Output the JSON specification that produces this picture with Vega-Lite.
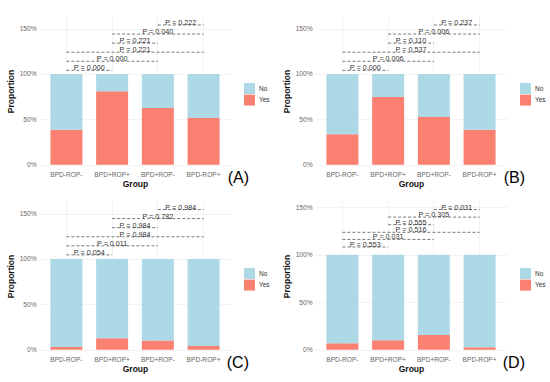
{
  "$schema": "https://vega.github.io/schema/vega-lite/v6.json",
  "padding": {"left": 6, "top": 15, "right": 0, "bottom": 0},
  "background": "white",
  "config": {
    "font": "Liberation Sans",
    "view": {"stroke": null},
    "axis": {"domain": false, "ticks": false, "labelFontSize": 6.6, "labelColor": "#666666", "titleFontSize": 8.5, "titleFontWeight": "bold", "titleColor": "#111111", "grid": true, "gridColor": "#ebebeb", "gridWidth": 0.6},
    "axisX": {"labelAngle": 0, "labelPadding": 4, "titlePadding": 2, "bandPosition": 0.5},
    "axisY": {"values": [0, 0.25, 0.5, 0.75, 1, 1.25, 1.5], "labelExpr": "datum.value % 0.5 == 0 ? format(datum.value, '.0%') : ''", "labelPadding": 3, "titlePadding": 4},
    "title": {"orient": "bottom", "anchor": "end", "frame": "group", "fontSize": 16, "fontWeight": "normal", "color": "#000000", "offset": 0, "dx": 18, "dy": -22},
    "legend": {"symbolType": "square", "symbolSize": 121, "symbolStrokeWidth": 0, "labelFontSize": 6.5, "labelColor": "#333333", "rowPadding": 0.6, "labelOffset": 4, "padding": 0}
  },
  "datasets": {
    "bars": [
      {"panel": "A", "group": "BPD-ROP-", "answer": "Yes", "proportion": 0.385},
      {"panel": "A", "group": "BPD-ROP-", "answer": "No", "proportion": 0.615},
      {"panel": "A", "group": "BPD+ROP+", "answer": "Yes", "proportion": 0.81},
      {"panel": "A", "group": "BPD+ROP+", "answer": "No", "proportion": 0.19},
      {"panel": "A", "group": "BPD+ROP-", "answer": "Yes", "proportion": 0.626},
      {"panel": "A", "group": "BPD+ROP-", "answer": "No", "proportion": 0.374},
      {"panel": "A", "group": "BPD-ROP+", "answer": "Yes", "proportion": 0.516},
      {"panel": "A", "group": "BPD-ROP+", "answer": "No", "proportion": 0.484},
      {"panel": "B", "group": "BPD-ROP-", "answer": "Yes", "proportion": 0.337},
      {"panel": "B", "group": "BPD-ROP-", "answer": "No", "proportion": 0.663},
      {"panel": "B", "group": "BPD+ROP+", "answer": "Yes", "proportion": 0.747},
      {"panel": "B", "group": "BPD+ROP+", "answer": "No", "proportion": 0.253},
      {"panel": "B", "group": "BPD+ROP-", "answer": "Yes", "proportion": 0.527},
      {"panel": "B", "group": "BPD+ROP-", "answer": "No", "proportion": 0.473},
      {"panel": "B", "group": "BPD-ROP+", "answer": "Yes", "proportion": 0.385},
      {"panel": "B", "group": "BPD-ROP+", "answer": "No", "proportion": 0.615},
      {"panel": "C", "group": "BPD-ROP-", "answer": "Yes", "proportion": 0.029},
      {"panel": "C", "group": "BPD-ROP-", "answer": "No", "proportion": 0.971},
      {"panel": "C", "group": "BPD+ROP+", "answer": "Yes", "proportion": 0.127},
      {"panel": "C", "group": "BPD+ROP+", "answer": "No", "proportion": 0.873},
      {"panel": "C", "group": "BPD+ROP-", "answer": "Yes", "proportion": 0.102},
      {"panel": "C", "group": "BPD+ROP-", "answer": "No", "proportion": 0.898},
      {"panel": "C", "group": "BPD-ROP+", "answer": "Yes", "proportion": 0.04},
      {"panel": "C", "group": "BPD-ROP+", "answer": "No", "proportion": 0.96},
      {"panel": "D", "group": "BPD-ROP-", "answer": "Yes", "proportion": 0.067},
      {"panel": "D", "group": "BPD-ROP-", "answer": "No", "proportion": 0.933},
      {"panel": "D", "group": "BPD+ROP+", "answer": "Yes", "proportion": 0.098},
      {"panel": "D", "group": "BPD+ROP+", "answer": "No", "proportion": 0.902},
      {"panel": "D", "group": "BPD+ROP-", "answer": "Yes", "proportion": 0.154},
      {"panel": "D", "group": "BPD+ROP-", "answer": "No", "proportion": 0.846},
      {"panel": "D", "group": "BPD-ROP+", "answer": "Yes", "proportion": 0.025},
      {"panel": "D", "group": "BPD-ROP+", "answer": "No", "proportion": 0.975}
    ],
    "brackets": [
      {"panel": "A", "from": "BPD-ROP-", "to": "BPD+ROP+", "h": 1.04, "label": "P = 0.000"},
      {"panel": "A", "from": "BPD-ROP-", "to": "BPD+ROP-", "h": 1.14, "label": "P = 0.000"},
      {"panel": "A", "from": "BPD-ROP-", "to": "BPD-ROP+", "h": 1.24, "label": "P = 0.221"},
      {"panel": "A", "from": "BPD+ROP+", "to": "BPD+ROP-", "h": 1.34, "label": "P = 0.221"},
      {"panel": "A", "from": "BPD+ROP+", "to": "BPD-ROP+", "h": 1.44, "label": "P = 0.040"},
      {"panel": "A", "from": "BPD+ROP-", "to": "BPD-ROP+", "h": 1.54, "label": "P = 0.222"},
      {"panel": "B", "from": "BPD-ROP-", "to": "BPD+ROP+", "h": 1.04, "label": "P = 0.000"},
      {"panel": "B", "from": "BPD-ROP-", "to": "BPD+ROP-", "h": 1.14, "label": "P = 0.006"},
      {"panel": "B", "from": "BPD-ROP-", "to": "BPD-ROP+", "h": 1.24, "label": "P = 0.537"},
      {"panel": "B", "from": "BPD+ROP+", "to": "BPD+ROP-", "h": 1.34, "label": "P = 0.110"},
      {"panel": "B", "from": "BPD+ROP+", "to": "BPD-ROP+", "h": 1.44, "label": "P = 0.006"},
      {"panel": "B", "from": "BPD+ROP-", "to": "BPD-ROP+", "h": 1.54, "label": "P = 0.237"},
      {"panel": "C", "from": "BPD-ROP-", "to": "BPD+ROP+", "h": 1.045, "label": "P = 0.054"},
      {"panel": "C", "from": "BPD-ROP-", "to": "BPD+ROP-", "h": 1.145, "label": "P = 0.011"},
      {"panel": "C", "from": "BPD-ROP-", "to": "BPD-ROP+", "h": 1.245, "label": "P = 0.984"},
      {"panel": "C", "from": "BPD+ROP+", "to": "BPD+ROP-", "h": 1.345, "label": "P = 0.984"},
      {"panel": "C", "from": "BPD+ROP+", "to": "BPD-ROP+", "h": 1.445, "label": "P = 0.782"},
      {"panel": "C", "from": "BPD+ROP-", "to": "BPD-ROP+", "h": 1.545, "label": "P = 0.984"},
      {"panel": "D", "from": "BPD-ROP-", "to": "BPD+ROP+", "h": 1.08, "label": "P = 0.553"},
      {"panel": "D", "from": "BPD-ROP-", "to": "BPD+ROP-", "h": 1.16, "label": "P = 0.031"},
      {"panel": "D", "from": "BPD-ROP-", "to": "BPD-ROP+", "h": 1.235, "label": "P = 0.516"},
      {"panel": "D", "from": "BPD+ROP+", "to": "BPD+ROP-", "h": 1.315, "label": "P = 0.555"},
      {"panel": "D", "from": "BPD+ROP+", "to": "BPD-ROP+", "h": 1.395, "label": "P = 0.305"},
      {"panel": "D", "from": "BPD+ROP-", "to": "BPD-ROP+", "h": 1.475, "label": "P = 0.031"}
    ]
  },
  "resolve": {"scale": {"color": "independent", "x": "independent", "y": "independent"}, "legend": {"color": "independent"}},
  "spacing": 11,
  "vconcat": [
    {
      "spacing": 12,
      "resolve": {"scale": {"color": "independent", "x": "independent", "y": "independent"}, "legend": {"color": "independent"}},
      "hconcat": [
        {
          "width": 192, "height": 152,
          "title": {"text": "(A)"},
          "layer": [
            {"data": {"name": "bars"}, "transform": [{"filter": "datum.panel == 'A'"}], "mark": {"type": "bar"},
             "encoding": {
               "x": {"field": "group", "type": "nominal", "title": "Group", "scale": {"domain": ["BPD-ROP-", "BPD+ROP+", "BPD+ROP-", "BPD-ROP+"], "paddingInner": 0.3, "paddingOuter": 0.25}},
               "y": {"field": "proportion", "type": "quantitative", "stack": "zero", "title": "Proportion", "scale": {"domain": [-0.025, 1.65], "nice": false, "zero": false}},
               "color": {"field": "answer", "type": "nominal", "scale": {"domain": ["No", "Yes"], "range": ["#ADD8E6", "#FA8072"]}, "legend": {"title": null, "orient": "none", "legendX": 205, "legendY": 68}},
               "order": {"field": "answer", "sort": "descending"}}},
            {"data": {"name": "brackets"}, "transform": [{"filter": "datum.panel == 'A'"}], "mark": {"type": "rule", "strokeDash": [3, 2], "color": "#555555", "strokeWidth": 0.8},
             "encoding": {"x": {"field": "from", "type": "nominal", "bandPosition": 0.5, "title": "Group"}, "x2": {"field": "to", "bandPosition": 0.5}, "y": {"field": "h", "type": "quantitative", "title": "Proportion"}}},
            {"data": {"name": "brackets"}, "transform": [{"filter": "datum.panel == 'A' && indexof(['BPD-ROP-','BPD+ROP+','BPD+ROP-','BPD-ROP+'], datum.to) - indexof(['BPD-ROP-','BPD+ROP+','BPD+ROP-','BPD-ROP+'], datum.from) == 1"}], "mark": {"type": "text", "fontSize": 7.2, "color": "#333333", "baseline": "alphabetic", "align": "center"},
             "encoding": {"x": {"field": "from", "type": "nominal", "bandPosition": 1.2143, "title": "Group"}, "y": {"field": "h", "type": "quantitative", "title": "Proportion"}, "text": {"field": "label"}}},
            {"data": {"name": "brackets"}, "transform": [{"filter": "datum.panel == 'A' && indexof(['BPD-ROP-','BPD+ROP+','BPD+ROP-','BPD-ROP+'], datum.to) - indexof(['BPD-ROP-','BPD+ROP+','BPD+ROP-','BPD-ROP+'], datum.from) == 2"}], "mark": {"type": "text", "fontSize": 7.2, "color": "#333333", "baseline": "alphabetic", "align": "center"},
             "encoding": {"x": {"field": "from", "type": "nominal", "bandPosition": 1.9286, "title": "Group"}, "y": {"field": "h", "type": "quantitative", "title": "Proportion"}, "text": {"field": "label"}}},
            {"data": {"name": "brackets"}, "transform": [{"filter": "datum.panel == 'A' && indexof(['BPD-ROP-','BPD+ROP+','BPD+ROP-','BPD-ROP+'], datum.to) - indexof(['BPD-ROP-','BPD+ROP+','BPD+ROP-','BPD-ROP+'], datum.from) == 3"}], "mark": {"type": "text", "fontSize": 7.2, "color": "#333333", "baseline": "alphabetic", "align": "center"},
             "encoding": {"x": {"field": "from", "type": "nominal", "bandPosition": 2.6429, "title": "Group"}, "y": {"field": "h", "type": "quantitative", "title": "Proportion"}, "text": {"field": "label"}}}
          ]
        },
        {
          "width": 192, "height": 152,
          "title": {"text": "(B)"},
          "layer": [
            {"data": {"name": "bars"}, "transform": [{"filter": "datum.panel == 'B'"}], "mark": {"type": "bar"},
             "encoding": {
               "x": {"field": "group", "type": "nominal", "title": "Group", "scale": {"domain": ["BPD-ROP-", "BPD+ROP+", "BPD+ROP-", "BPD-ROP+"], "paddingInner": 0.3, "paddingOuter": 0.25}},
               "y": {"field": "proportion", "type": "quantitative", "stack": "zero", "title": "Proportion", "scale": {"domain": [-0.025, 1.65], "nice": false, "zero": false}},
               "color": {"field": "answer", "type": "nominal", "scale": {"domain": ["No", "Yes"], "range": ["#ADD8E6", "#FA8072"]}, "legend": {"title": null, "orient": "none", "legendX": 205, "legendY": 68}},
               "order": {"field": "answer", "sort": "descending"}}},
            {"data": {"name": "brackets"}, "transform": [{"filter": "datum.panel == 'B'"}], "mark": {"type": "rule", "strokeDash": [3, 2], "color": "#555555", "strokeWidth": 0.8},
             "encoding": {"x": {"field": "from", "type": "nominal", "bandPosition": 0.5, "title": "Group"}, "x2": {"field": "to", "bandPosition": 0.5}, "y": {"field": "h", "type": "quantitative", "title": "Proportion"}}},
            {"data": {"name": "brackets"}, "transform": [{"filter": "datum.panel == 'B' && indexof(['BPD-ROP-','BPD+ROP+','BPD+ROP-','BPD-ROP+'], datum.to) - indexof(['BPD-ROP-','BPD+ROP+','BPD+ROP-','BPD-ROP+'], datum.from) == 1"}], "mark": {"type": "text", "fontSize": 7.2, "color": "#333333", "baseline": "alphabetic", "align": "center"},
             "encoding": {"x": {"field": "from", "type": "nominal", "bandPosition": 1.2143, "title": "Group"}, "y": {"field": "h", "type": "quantitative", "title": "Proportion"}, "text": {"field": "label"}}},
            {"data": {"name": "brackets"}, "transform": [{"filter": "datum.panel == 'B' && indexof(['BPD-ROP-','BPD+ROP+','BPD+ROP-','BPD-ROP+'], datum.to) - indexof(['BPD-ROP-','BPD+ROP+','BPD+ROP-','BPD-ROP+'], datum.from) == 2"}], "mark": {"type": "text", "fontSize": 7.2, "color": "#333333", "baseline": "alphabetic", "align": "center"},
             "encoding": {"x": {"field": "from", "type": "nominal", "bandPosition": 1.9286, "title": "Group"}, "y": {"field": "h", "type": "quantitative", "title": "Proportion"}, "text": {"field": "label"}}},
            {"data": {"name": "brackets"}, "transform": [{"filter": "datum.panel == 'B' && indexof(['BPD-ROP-','BPD+ROP+','BPD+ROP-','BPD-ROP+'], datum.to) - indexof(['BPD-ROP-','BPD+ROP+','BPD+ROP-','BPD-ROP+'], datum.from) == 3"}], "mark": {"type": "text", "fontSize": 7.2, "color": "#333333", "baseline": "alphabetic", "align": "center"},
             "encoding": {"x": {"field": "from", "type": "nominal", "bandPosition": 2.6429, "title": "Group"}, "y": {"field": "h", "type": "quantitative", "title": "Proportion"}, "text": {"field": "label"}}}
          ]
        }
      ]
    },
    {
      "spacing": 12,
      "resolve": {"scale": {"color": "independent", "x": "independent", "y": "independent"}, "legend": {"color": "independent"}},
      "hconcat": [
        {
          "width": 192, "height": 152,
          "title": {"text": "(C)"},
          "layer": [
            {"data": {"name": "bars"}, "transform": [{"filter": "datum.panel == 'C'"}], "mark": {"type": "bar"},
             "encoding": {
               "x": {"field": "group", "type": "nominal", "title": "Group", "scale": {"domain": ["BPD-ROP-", "BPD+ROP+", "BPD+ROP-", "BPD-ROP+"], "paddingInner": 0.3, "paddingOuter": 0.25}},
               "y": {"field": "proportion", "type": "quantitative", "stack": "zero", "title": "Proportion", "scale": {"domain": [-0.025, 1.65], "nice": false, "zero": false}},
               "color": {"field": "answer", "type": "nominal", "scale": {"domain": ["No", "Yes"], "range": ["#ADD8E6", "#FA8072"]}, "legend": {"title": null, "orient": "none", "legendX": 205, "legendY": 68}},
               "order": {"field": "answer", "sort": "descending"}}},
            {"data": {"name": "brackets"}, "transform": [{"filter": "datum.panel == 'C'"}], "mark": {"type": "rule", "strokeDash": [3, 2], "color": "#555555", "strokeWidth": 0.8},
             "encoding": {"x": {"field": "from", "type": "nominal", "bandPosition": 0.5, "title": "Group"}, "x2": {"field": "to", "bandPosition": 0.5}, "y": {"field": "h", "type": "quantitative", "title": "Proportion"}}},
            {"data": {"name": "brackets"}, "transform": [{"filter": "datum.panel == 'C' && indexof(['BPD-ROP-','BPD+ROP+','BPD+ROP-','BPD-ROP+'], datum.to) - indexof(['BPD-ROP-','BPD+ROP+','BPD+ROP-','BPD-ROP+'], datum.from) == 1"}], "mark": {"type": "text", "fontSize": 7.2, "color": "#333333", "baseline": "alphabetic", "align": "center"},
             "encoding": {"x": {"field": "from", "type": "nominal", "bandPosition": 1.2143, "title": "Group"}, "y": {"field": "h", "type": "quantitative", "title": "Proportion"}, "text": {"field": "label"}}},
            {"data": {"name": "brackets"}, "transform": [{"filter": "datum.panel == 'C' && indexof(['BPD-ROP-','BPD+ROP+','BPD+ROP-','BPD-ROP+'], datum.to) - indexof(['BPD-ROP-','BPD+ROP+','BPD+ROP-','BPD-ROP+'], datum.from) == 2"}], "mark": {"type": "text", "fontSize": 7.2, "color": "#333333", "baseline": "alphabetic", "align": "center"},
             "encoding": {"x": {"field": "from", "type": "nominal", "bandPosition": 1.9286, "title": "Group"}, "y": {"field": "h", "type": "quantitative", "title": "Proportion"}, "text": {"field": "label"}}},
            {"data": {"name": "brackets"}, "transform": [{"filter": "datum.panel == 'C' && indexof(['BPD-ROP-','BPD+ROP+','BPD+ROP-','BPD-ROP+'], datum.to) - indexof(['BPD-ROP-','BPD+ROP+','BPD+ROP-','BPD-ROP+'], datum.from) == 3"}], "mark": {"type": "text", "fontSize": 7.2, "color": "#333333", "baseline": "alphabetic", "align": "center"},
             "encoding": {"x": {"field": "from", "type": "nominal", "bandPosition": 2.6429, "title": "Group"}, "y": {"field": "h", "type": "quantitative", "title": "Proportion"}, "text": {"field": "label"}}}
          ]
        },
        {
          "width": 192, "height": 152,
          "title": {"text": "(D)"},
          "layer": [
            {"data": {"name": "bars"}, "transform": [{"filter": "datum.panel == 'D'"}], "mark": {"type": "bar"},
             "encoding": {
               "x": {"field": "group", "type": "nominal", "title": "Group", "scale": {"domain": ["BPD-ROP-", "BPD+ROP+", "BPD+ROP-", "BPD-ROP+"], "paddingInner": 0.3, "paddingOuter": 0.25}},
               "y": {"field": "proportion", "type": "quantitative", "stack": "zero", "title": "Proportion", "scale": {"domain": [-0.025, 1.575], "nice": false, "zero": false}},
               "color": {"field": "answer", "type": "nominal", "scale": {"domain": ["No", "Yes"], "range": ["#ADD8E6", "#FA8072"]}, "legend": {"title": null, "orient": "none", "legendX": 205, "legendY": 68}},
               "order": {"field": "answer", "sort": "descending"}}},
            {"data": {"name": "brackets"}, "transform": [{"filter": "datum.panel == 'D'"}], "mark": {"type": "rule", "strokeDash": [3, 2], "color": "#555555", "strokeWidth": 0.8},
             "encoding": {"x": {"field": "from", "type": "nominal", "bandPosition": 0.5, "title": "Group"}, "x2": {"field": "to", "bandPosition": 0.5}, "y": {"field": "h", "type": "quantitative", "title": "Proportion"}}},
            {"data": {"name": "brackets"}, "transform": [{"filter": "datum.panel == 'D' && indexof(['BPD-ROP-','BPD+ROP+','BPD+ROP-','BPD-ROP+'], datum.to) - indexof(['BPD-ROP-','BPD+ROP+','BPD+ROP-','BPD-ROP+'], datum.from) == 1"}], "mark": {"type": "text", "fontSize": 7.2, "color": "#333333", "baseline": "alphabetic", "align": "center"},
             "encoding": {"x": {"field": "from", "type": "nominal", "bandPosition": 1.2143, "title": "Group"}, "y": {"field": "h", "type": "quantitative", "title": "Proportion"}, "text": {"field": "label"}}},
            {"data": {"name": "brackets"}, "transform": [{"filter": "datum.panel == 'D' && indexof(['BPD-ROP-','BPD+ROP+','BPD+ROP-','BPD-ROP+'], datum.to) - indexof(['BPD-ROP-','BPD+ROP+','BPD+ROP-','BPD-ROP+'], datum.from) == 2"}], "mark": {"type": "text", "fontSize": 7.2, "color": "#333333", "baseline": "alphabetic", "align": "center"},
             "encoding": {"x": {"field": "from", "type": "nominal", "bandPosition": 1.9286, "title": "Group"}, "y": {"field": "h", "type": "quantitative", "title": "Proportion"}, "text": {"field": "label"}}},
            {"data": {"name": "brackets"}, "transform": [{"filter": "datum.panel == 'D' && indexof(['BPD-ROP-','BPD+ROP+','BPD+ROP-','BPD-ROP+'], datum.to) - indexof(['BPD-ROP-','BPD+ROP+','BPD+ROP-','BPD-ROP+'], datum.from) == 3"}], "mark": {"type": "text", "fontSize": 7.2, "color": "#333333", "baseline": "alphabetic", "align": "center"},
             "encoding": {"x": {"field": "from", "type": "nominal", "bandPosition": 2.6429, "title": "Group"}, "y": {"field": "h", "type": "quantitative", "title": "Proportion"}, "text": {"field": "label"}}}
          ]
        }
      ]
    }
  ]
}
